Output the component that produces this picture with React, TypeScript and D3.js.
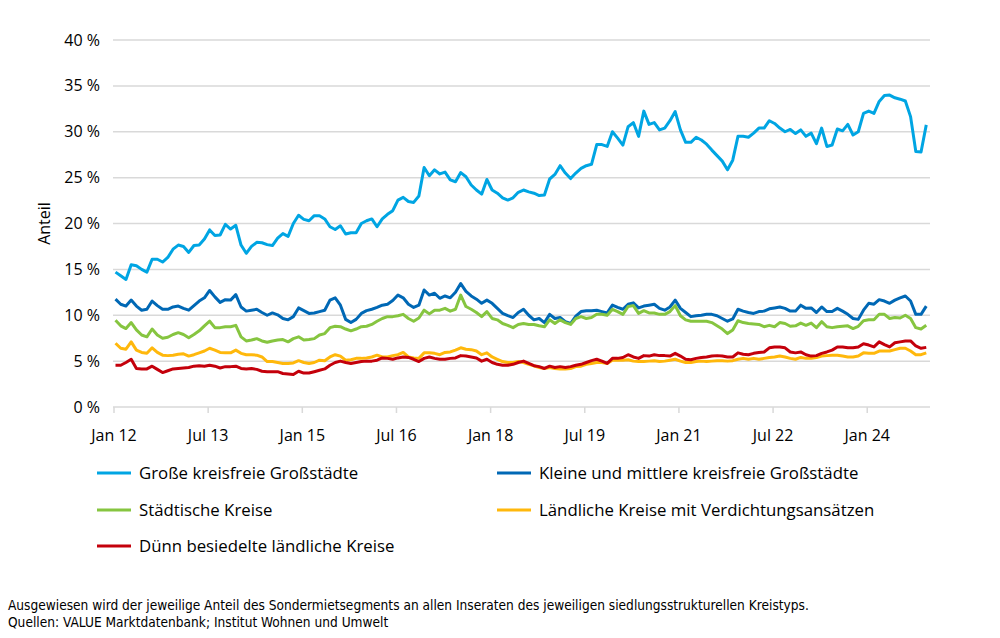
import React from "react";
import * as d3 from "d3";

// Monthly shares (%) of the special rental segment, Jan 2012 – Dec 2024
const grosseKreisfreie = [
  14.7, 14.3, 13.9, 15.5, 15.4, 15.0, 14.7, 16.1, 16.1, 15.8,
  16.3, 17.2, 17.65, 17.5, 16.85, 17.6, 17.65, 18.3, 19.3, 18.7,
  18.75, 19.9, 19.4, 19.8, 17.65, 16.75, 17.5, 17.95, 17.9, 17.7,
  17.6, 18.4, 18.9, 18.6, 20.0, 20.9, 20.45, 20.3, 20.85, 20.85,
  20.5, 19.65, 19.35, 19.75, 18.85, 19.0, 19.0, 20.0, 20.3, 20.5,
  19.65, 20.5, 21.0, 21.4, 22.55, 22.85, 22.4, 22.3, 23.0, 26.1,
  25.2, 25.85, 25.4, 25.6, 24.75, 24.55, 25.55, 25.1, 24.2, 23.65,
  23.2, 24.8, 23.65, 23.3, 22.8, 22.55, 22.8, 23.4, 23.65, 23.45,
  23.3, 23.05, 23.1, 24.85, 25.35, 26.3, 25.5, 24.9, 25.5, 26.0,
  26.3, 26.45, 28.6, 28.6, 28.4, 30.0, 29.3, 28.55, 30.55, 31.0,
  29.5, 32.25, 30.8, 31.0, 30.2, 30.4, 31.2, 32.2, 30.2, 28.85,
  28.85, 29.4, 29.1, 28.65, 28.0, 27.4, 26.8, 25.85, 26.9, 29.5,
  29.5, 29.4, 29.85, 30.4, 30.4, 31.2, 30.9, 30.4, 30.0, 30.25,
  29.8, 30.2, 29.5, 29.85, 28.7, 30.4, 28.4, 28.55, 30.3, 30.1,
  30.8, 29.65, 30.0, 32.0, 32.25, 32.0, 33.3, 33.95, 34.0, 33.7,
  33.55, 33.35, 31.65, 27.85, 27.8, 30.75,
];

const kleineMittlere = [
  11.75, 11.2, 11.0, 11.65, 11.0, 10.55, 10.65, 11.55, 11.05, 10.65,
  10.65, 10.9, 11.0, 10.75, 10.55, 11.05, 11.55, 11.9, 12.7, 12.0,
  11.4, 11.7, 11.65, 12.25, 10.9, 10.45, 10.55, 10.65, 10.3, 10.0,
  10.25, 10.05, 9.65, 9.5, 9.85, 10.8, 10.5, 10.2, 10.25, 10.4,
  10.55, 11.65, 11.9, 11.1, 9.55, 9.2, 9.55, 10.2, 10.5, 10.65,
  10.85, 11.1, 11.2, 11.6, 12.2, 11.9, 11.2, 10.85, 11.1, 12.75,
  12.2, 12.4, 11.85, 12.1, 11.9, 12.5, 13.45, 12.6, 12.1, 11.75,
  11.3, 11.65, 11.3, 10.75, 10.2, 9.95, 9.75, 10.3, 10.65, 10.0,
  9.5, 9.65, 9.2, 10.1, 9.65, 9.75, 9.3, 9.1, 9.9, 10.4,
  10.5, 10.5, 10.55, 10.4, 10.25, 11.1, 10.85, 10.65, 11.2, 11.35,
  10.8, 11.0, 11.1, 11.2, 10.75, 10.55, 10.9, 11.65, 10.75, 10.3,
  9.85, 9.95, 10.0, 10.1, 10.1, 9.95, 9.65, 9.35, 9.6, 10.65,
  10.45, 10.3, 10.2, 10.4, 10.45, 10.7, 10.8, 10.9, 10.75, 10.45,
  10.45, 11.1, 10.75, 10.8, 10.3, 10.9, 10.4, 10.4, 10.75, 10.45,
  10.1, 9.65, 9.55, 10.55, 11.3, 11.2, 11.7, 11.55, 11.3, 11.65,
  11.9, 12.1, 11.55, 10.1, 10.1, 11.0,
];

const staedtischeKreise = [
  9.45, 8.85, 8.55, 9.2, 8.4, 7.85, 7.65, 8.5, 7.85, 7.5,
  7.6, 7.9, 8.1, 7.9, 7.55, 7.9, 8.3, 8.85, 9.35, 8.65,
  8.65, 8.75, 8.75, 8.9, 7.65, 7.2, 7.3, 7.45, 7.2, 7.05,
  7.2, 7.3, 7.35, 7.1, 7.45, 7.65, 7.3, 7.35, 7.45, 7.85,
  8.0, 8.65, 8.8, 8.75, 8.5, 8.3, 8.5, 8.75, 8.8, 9.0,
  9.35, 9.65, 9.85, 9.85, 9.95, 10.1, 9.65, 9.35, 9.7, 10.55,
  10.15, 10.55, 10.55, 10.75, 10.45, 10.65, 12.2, 10.95, 10.65, 10.3,
  9.85, 10.4, 9.65, 9.5, 9.1, 8.9, 8.65, 9.0, 9.1, 9.0,
  9.0, 8.85, 8.75, 9.5, 9.1, 9.5, 9.2, 9.0, 9.65, 9.85,
  9.65, 9.75, 10.1, 10.1, 10.0, 10.65, 10.4, 10.1, 10.95, 11.05,
  10.2, 10.5, 10.25, 10.25, 10.1, 10.1, 10.4, 11.05, 9.95, 9.5,
  9.35, 9.35, 9.35, 9.35, 9.2, 8.85, 8.5, 8.0, 8.4, 9.4,
  9.2, 9.1, 9.05, 9.0, 8.75, 8.9, 8.75, 9.2, 9.1, 8.8,
  8.85, 9.15, 8.9, 9.15, 8.65, 9.3, 8.75, 8.65, 8.75, 8.8,
  8.85, 8.55, 8.8, 9.4, 9.5, 9.5, 10.1, 10.1, 9.65, 9.75,
  9.7, 10.0, 9.65, 8.65, 8.5, 8.9,
];

const laendlicheVerdichtung = [
  6.95, 6.4, 6.3, 7.1, 6.2, 5.95, 5.85, 6.45, 5.95, 5.65,
  5.6, 5.65, 5.75, 5.8, 5.55, 5.7, 5.9, 6.1, 6.4, 6.2,
  5.95, 5.9, 5.9, 6.2, 5.85, 5.7, 5.7, 5.65, 5.45, 4.95,
  4.95, 4.85, 4.75, 4.75, 4.8, 5.05, 4.85, 4.75, 4.85, 5.1,
  5.05, 5.45, 5.7, 5.55, 5.1, 5.15, 5.3, 5.3, 5.35, 5.45,
  5.65, 5.45, 5.45, 5.6, 5.7, 5.95, 5.45, 5.35, 5.3, 5.9,
  5.9, 5.85, 5.7, 5.95, 6.0, 6.2, 6.45, 6.3, 6.25, 6.1,
  5.7, 5.9, 5.45, 5.2, 4.95, 4.85, 4.85, 4.95, 4.85, 4.65,
  4.5, 4.3, 4.2, 4.3, 4.2, 4.15, 4.15, 4.2, 4.4, 4.45,
  4.65, 4.75, 4.85, 4.85, 4.75, 5.1, 5.1, 5.1, 5.15, 5.0,
  4.95, 4.95, 5.0, 5.05, 4.95, 5.0, 5.1, 5.2, 5.0, 4.85,
  4.85, 4.95, 5.0, 4.95, 5.0, 5.05, 5.05, 5.0, 5.05, 5.2,
  5.3, 5.2, 5.3, 5.2, 5.3, 5.4, 5.45, 5.55, 5.45, 5.3,
  5.2, 5.4, 5.3, 5.3, 5.4, 5.55, 5.6, 5.65, 5.65, 5.55,
  5.45, 5.45, 5.55, 5.9, 5.85, 5.85, 6.1, 6.1, 6.1, 6.25,
  6.4, 6.4, 6.1, 5.7, 5.7, 5.9,
];

const duennBesiedelt = [
  4.55, 4.55, 4.85, 5.2, 4.2, 4.15, 4.15, 4.45, 4.1, 3.75,
  3.95, 4.15, 4.2, 4.25, 4.3, 4.45, 4.5, 4.45, 4.55, 4.45,
  4.25, 4.4, 4.4, 4.45, 4.2, 4.15, 4.2, 4.1, 3.9, 3.85,
  3.85, 3.85, 3.65, 3.6, 3.55, 3.9, 3.7, 3.7, 3.85, 4.0,
  4.15, 4.55, 4.85, 5.0, 4.85, 4.75, 4.85, 4.95, 5.0, 5.0,
  5.1, 5.35, 5.3, 5.2, 5.35, 5.45, 5.4, 5.2, 4.95, 5.3,
  5.45, 5.3, 5.2, 5.2, 5.3, 5.35, 5.6, 5.55, 5.45, 5.35,
  5.0, 5.2, 4.85, 4.65, 4.55, 4.55, 4.65, 4.85, 5.0, 4.75,
  4.5, 4.4, 4.2, 4.45, 4.3, 4.4, 4.3, 4.4, 4.55, 4.65,
  4.85, 5.05, 5.2, 5.0, 4.75, 5.3, 5.3, 5.4, 5.7, 5.45,
  5.3, 5.6, 5.55, 5.7, 5.6, 5.6, 5.55, 5.85, 5.55, 5.2,
  5.15, 5.3, 5.4, 5.45, 5.55, 5.6, 5.55, 5.45, 5.45, 5.9,
  5.75, 5.7, 5.85, 5.95, 6.0, 6.45, 6.55, 6.55, 6.45, 6.0,
  5.9, 6.0, 5.7, 5.55, 5.6, 5.85, 6.0, 6.2, 6.55, 6.55,
  6.45, 6.45, 6.55, 6.9, 6.75, 6.55, 7.1, 6.8, 6.55, 7.0,
  7.1, 7.2, 7.2, 6.65, 6.4, 6.5,
];

// Axis ticks: every 18 months starting Jan 2012
const xTickMonths = [0, 18, 36, 54, 72, 90, 108, 126, 144];
const xTickLabels = ["Jan 12", "Jul 13", "Jan 15", "Jul 16", "Jan 18", "Jul 19", "Jan 21", "Jul 22", "Jan 24"];
const yTicks = [0, 5, 10, 15, 20, 25, 30, 35, 40];

const seriesNames = [
  "Große kreisfreie Großstädte",
  "Kleine und mittlere kreisfreie Großstädte",
  "Städtische Kreise",
  "Ländliche Kreise mit Verdichtungsansätzen",
  "Dünn besiedelte ländliche Kreise",
];
const seriesColors = ["#00a5e3", "#0068b5", "#86c540", "#ffb80c", "#c4000b"];
const seriesData = [grosseKreisfreie, kleineMittlere, staedtischeKreise, laendlicheVerdichtung, duennBesiedelt];

const footnotes = [
  "Ausgewiesen wird der jeweilige Anteil des Sondermietsegments an allen Inseraten des jeweiligen siedlungsstrukturellen Kreistyps.",
  "Quellen: VALUE Marktdatenbank; Institut Wohnen und Umwelt",
];

const W = 1000;
const H = 638;
const plot = { left: 114, right: 930, top: 40, bottom: 407 };
const FONT = "'Open Sans', 'Noto Sans', sans-serif";

export default function App() {
  const x = d3.scaleLinear().domain([0, 156]).range([plot.left, plot.right]);
  const y = d3.scaleLinear().domain([0, 40]).range([plot.bottom, plot.top]);
  const line = d3
    .line<number>()
    .x((_, i) => x(i) + 1.5)
    .y((d) => y(d));

  // Legend layout: two columns, three rows
  const legendPos = [
    { lx: 97, ly: 473 },
    { lx: 497, ly: 473 },
    { lx: 97, ly: 510 },
    { lx: 497, ly: 510 },
    { lx: 97, ly: 546 },
  ];

  return (
    <svg
      width={W}
      height={H}
      style={{ position: "absolute", left: 0, top: 0, background: "#fff" }}
      fontFamily={FONT}
    >
      {/* horizontal gridlines */}
      {yTicks.map((t) => (
        <line
          key={t}
          x1={plot.left - 1}
          x2={plot.right}
          y1={y(t)}
          y2={y(t)}
          stroke="#d9d9d9"
          strokeWidth={1.5}
        />
      ))}
      {/* y tick labels */}
      {yTicks.map((t) => (
        <text key={t} x={100} y={y(t) + 5.5} textAnchor="end" fontSize={16} fill="#000">
          {`${t} %`}
        </text>
      ))}
      {/* x axis ticks and labels */}
      {xTickMonths.map((m, i) => (
        <g key={m}>
          <line x1={x(m)} x2={x(m)} y1={plot.bottom} y2={plot.bottom + 6} stroke="#d9d9d9" strokeWidth={1.5} />
          <text x={x(m)} y={plot.bottom + 34} textAnchor="middle" fontSize={16} fill="#000">
            {xTickLabels[i]}
          </text>
        </g>
      ))}
      <text
        transform={`translate(50, ${(plot.top + plot.bottom) / 2}) rotate(-90)`}
        textAnchor="middle"
        fontSize={16}
        fill="#000"
      >
        Anteil
      </text>

      {/* series lines */}
      {seriesData.map((s, i) => (
        <path
          key={seriesNames[i]}
          d={line(s) || ""}
          fill="none"
          stroke={seriesColors[i]}
          strokeWidth={3}
          strokeLinejoin="round"
        />
      ))}

      {/* legend */}
      {seriesNames.map((name, i) => (
        <g key={name}>
          <line
            x1={legendPos[i].lx}
            x2={legendPos[i].lx + 34}
            y1={legendPos[i].ly}
            y2={legendPos[i].ly}
            stroke={seriesColors[i]}
            strokeWidth={3}
          />
          <text x={legendPos[i].lx + 42} y={legendPos[i].ly + 6} fontSize={16.8} fill="#000">
            {name}
          </text>
        </g>
      ))}

      {/* notes */}
      {footnotes.map((t, i) => (
        <text
          key={i}
          x={8}
          y={610 + i * 17}
          fontSize={13.6}
          fill="#000"
          fontFamily="'Liberation Sans Narrow', 'DejaVu Sans Condensed', sans-serif"
        >
          {t}
        </text>
      ))}
    </svg>
  );
}
